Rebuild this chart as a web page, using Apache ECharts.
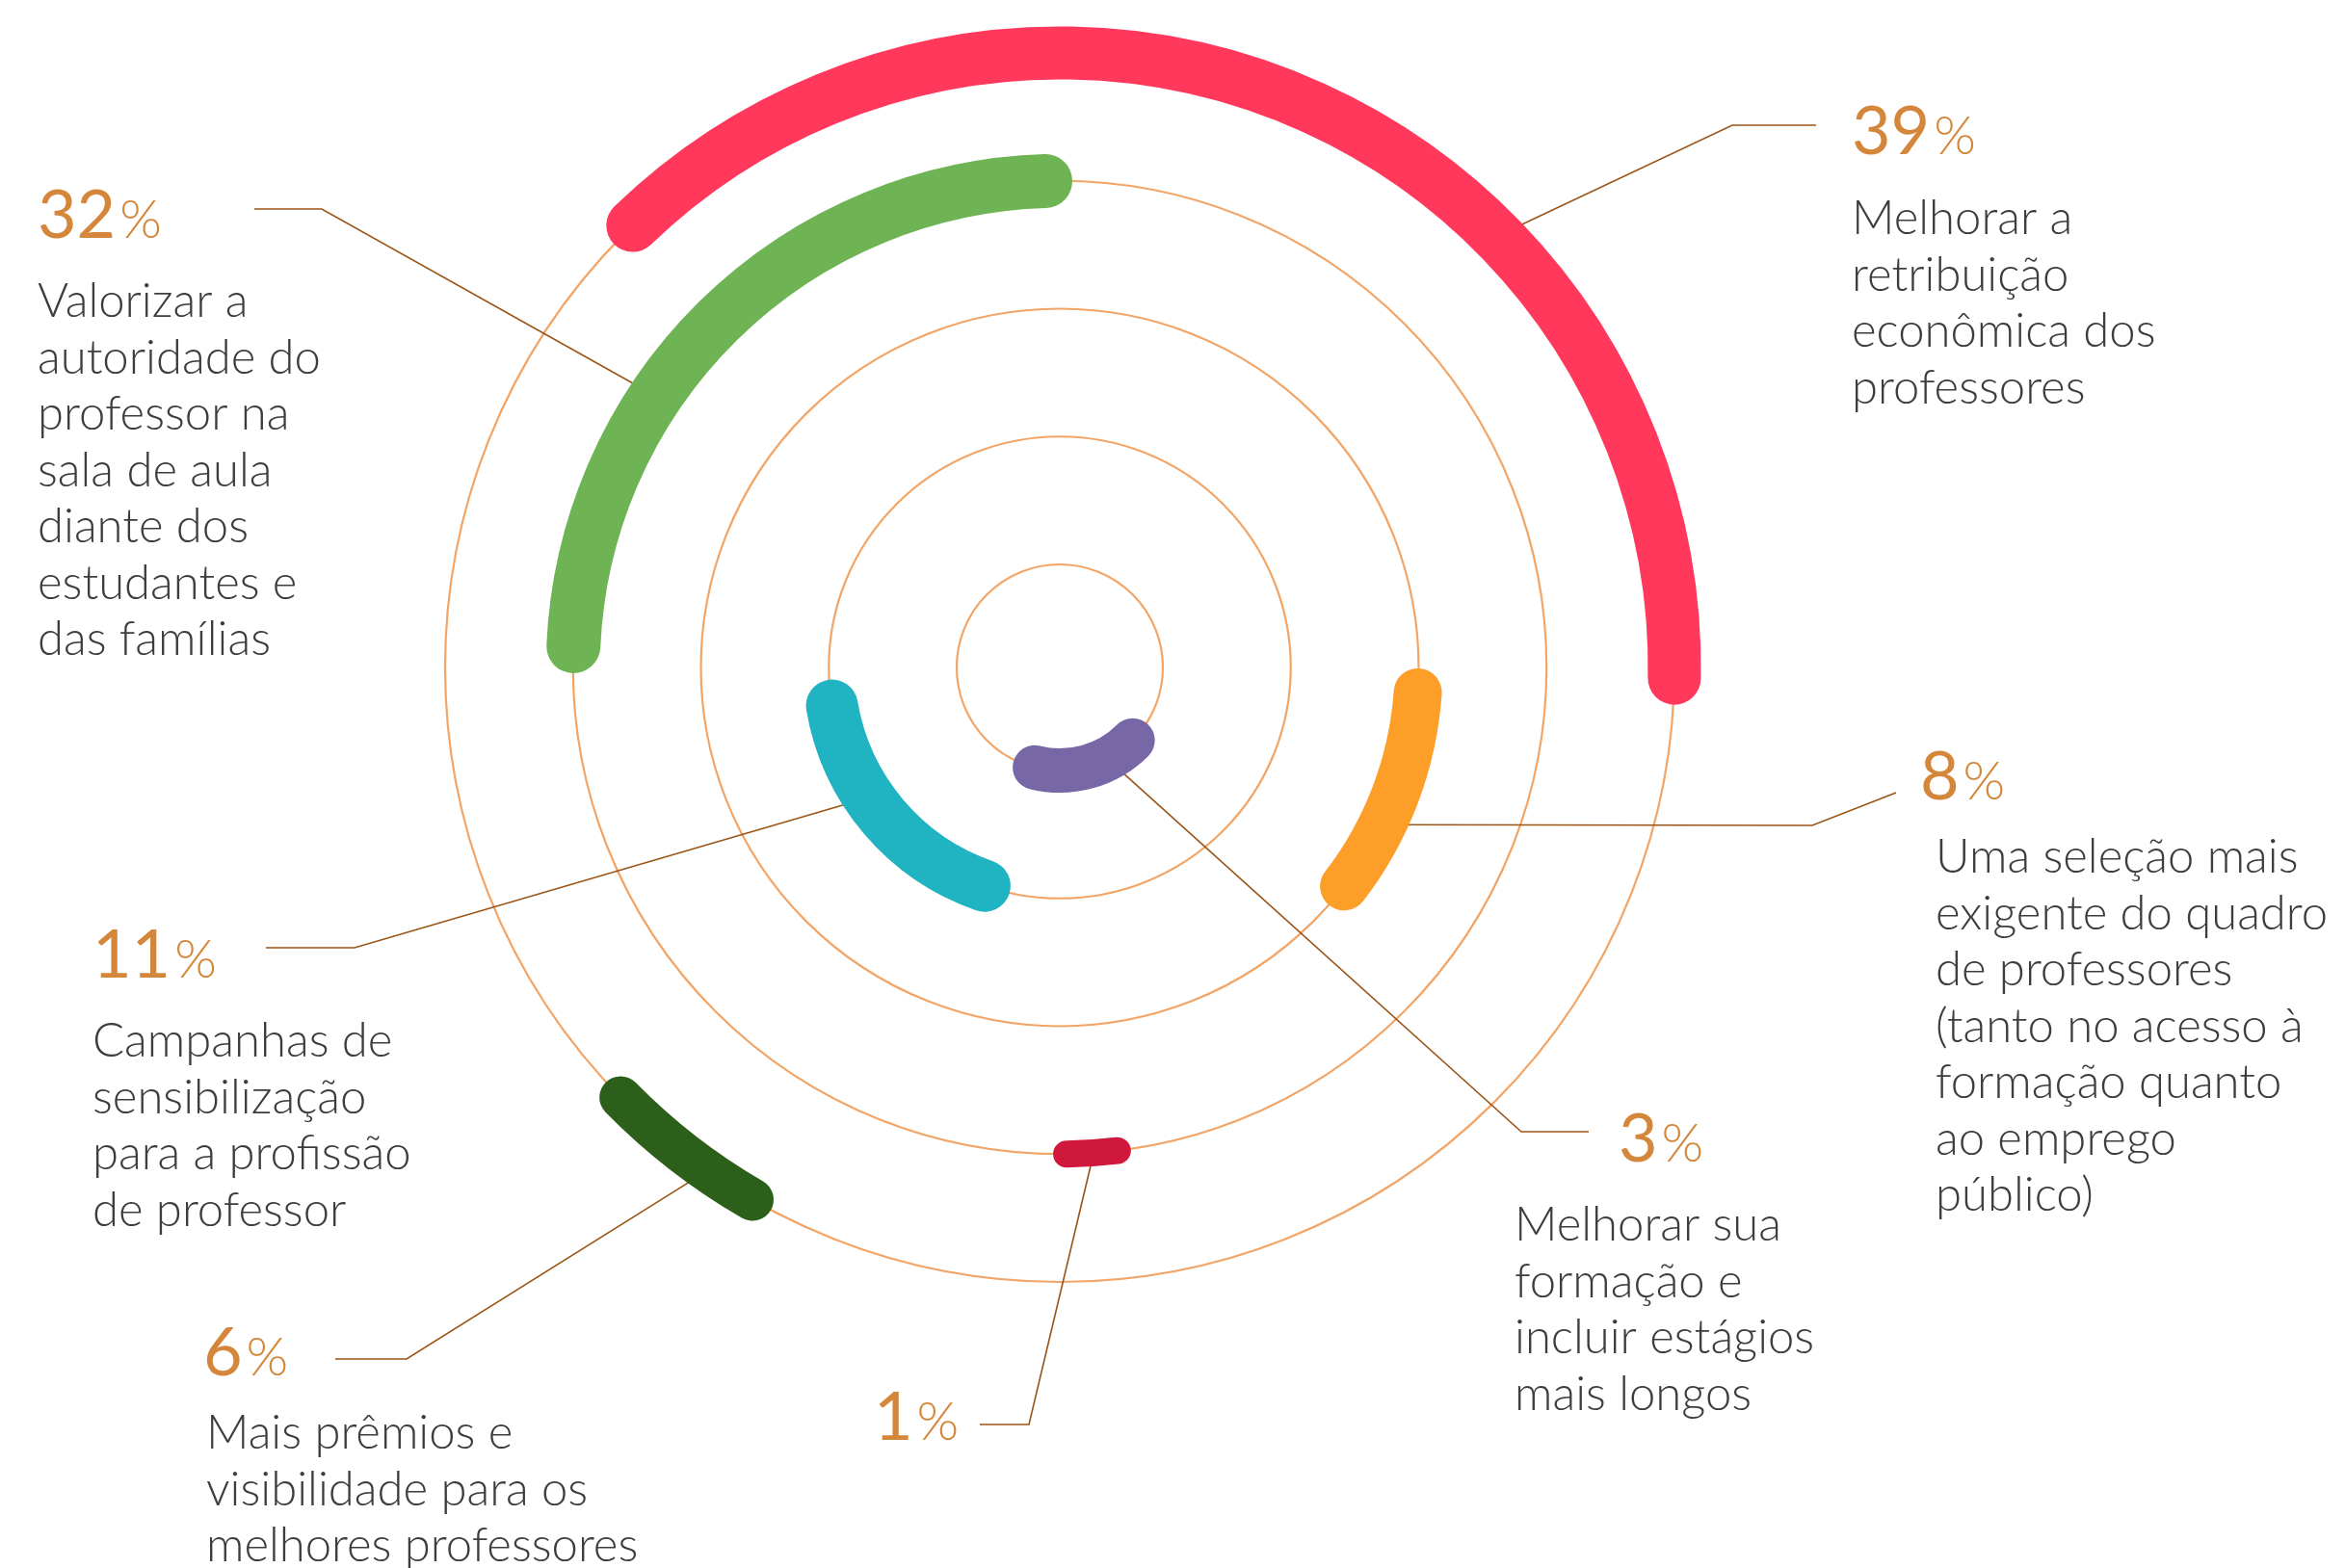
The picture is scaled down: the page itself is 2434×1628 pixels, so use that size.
<!DOCTYPE html>
<html>
<head>
<meta charset="utf-8">
<script src="https://cdn.jsdelivr.net/npm/echarts@6/dist/echarts.min.js"></script>
<style>
  html, body { margin: 0; background: #fff; }
  #chart { width: 2434px; height: 1628px; }
</style>
</head>
<body>
<div id="chart"></div>
<script>
// one entry per answer, same order in every array
const percents = [39, 32, 8, 3, 1, 6, 11];
const labels = [
  ['Melhorar a', 'retribuição', 'econômica dos', 'professores'],
  ['Valorizar a', 'autoridade do', 'professor na', 'sala de aula', 'diante dos', 'estudantes e', 'das famílias'],
  ['Uma seleção mais', 'exigente do quadro', 'de professores', '(tanto no acesso à', 'formação quanto', 'ao emprego', 'público)'],
  ['Melhorar sua', 'formação e', 'incluir estágios', 'mais longos'],
  [],
  ['Mais prêmios e', 'visibilidade para os', 'melhores professores'],
  ['Campanhas de', 'sensibilização', 'para a profissão', 'de professor']
];
// ring index (0 = innermost) and arc extent on the angle axis (0..360, clockwise from the left)
const rings = [4, 3, 2, 0, 3, 4, 1];
const arcStart = [46, 2.5, 184, 225, 263.2, 300, 289];
const arcEnd = [181, 88.3, 217.6, 284, 269.2, 315.6, 350.5];
const anchorAngle = [135.4, 33.9, 206, 242.5, 266, 305, 325.7];

// styles
const arcColors = ['#ff385c', '#6fb454', '#fd9e28', '#7767a6', '#d0183c', '#2b5f1a', '#20b4c3'];
const arcWidths = [55, 56, 50, 46, 28, 44, 54];
const pctPos = [[1922, 157], [39, 244], [1993, 827], [1680, 1203], [907, 1492], [211, 1425], [96, 1012]];
const bodyPos = [[1922, 245], [39, 331], [2009, 908], [1572, 1290], null, [214, 1506], [96, 1099]];
const leaderEnd = [[1885, 130], [264, 217], [1968, 823], [1649, 1175], [1017, 1479], [348, 1411], [276, 984]];
const leaderElbow = [[1798, 130], [334, 217], [1881, 857], [1579, 1175], [1068, 1479], [422, 1411], [368, 984]];

const FONT = 'Lato';
const bodySize = 49;
const lineH = 58.5;

const chart = echarts.init(document.getElementById('chart'));

chart.setOption({
  animation: false,
  backgroundColor: '#fff',
  polar: { center: [1100, 693], radius: [107, 638] },
  radiusAxis: {
    type: 'value', min: 0, max: 4, interval: 1,
    axisLine: { show: false }, axisTick: { show: false }, axisLabel: { show: false },
    splitLine: { show: true, lineStyle: { color: '#f2a566', width: 2.2 } }
  },
  angleAxis: {
    type: 'value', min: 0, max: 360, startAngle: 180, clockwise: true,
    axisLine: { show: false }, axisTick: { show: false }, axisLabel: { show: false },
    splitLine: { show: false }
  },
  series: [{
    type: 'custom',
    coordinateSystem: 'polar',
    z: 5,
    encode: { radius: 0, angle: [1, 2] },
    data: rings.map((r, i) => [r, arcStart[i], arcEnd[i]]),
    renderItem: (params, api) => {
      const cs = params.coordSys;
      const ring = api.value(0);
      const p0 = api.coord([ring, api.value(1)]);
      const p1 = api.coord([ring, api.value(2)]);
      const i = params.dataIndex;
      return {
        type: 'arc',
        shape: {
          cx: cs.cx, cy: cs.cy,
          r: Math.hypot(p0[0] - cs.cx, p0[1] - cs.cy),
          startAngle: Math.atan2(p0[1] - cs.cy, p0[0] - cs.cx),
          endAngle: Math.atan2(p1[1] - cs.cy, p1[0] - cs.cx),
          clockwise: true
        },
        style: { stroke: arcColors[i], lineWidth: arcWidths[i], lineCap: 'round', fill: null }
      };
    }
  }]
});

// labels and leader lines
const graphics = [];
percents.forEach((p, i) => {
  const anchor = chart.convertToPixel({ seriesIndex: 0 }, [rings[i], anchorAngle[i]]);
  graphics.push({
    type: 'polyline', z: 1, silent: true,
    shape: { points: [leaderEnd[i], leaderElbow[i], anchor] },
    style: { stroke: '#9a5416', lineWidth: 1.6, fill: null }
  });
  graphics.push({
    type: 'text', z: 10,
    x: pctPos[i][0], y: pctPos[i][1] + 15,
    style: {
      text: '{n|' + p + '}{p|%}',
      verticalAlign: 'bottom',
      rich: {
        n: { fontFamily: FONT, fontSize: 70, fontWeight: 400, fill: '#d4873a', verticalAlign: 'bottom' },
        p: { fontFamily: FONT, fontSize: 56, fontWeight: 300, fill: '#d4873a', verticalAlign: 'bottom', padding: [0, 0, 2, 4] }
      }
    }
  });
  if (bodyPos[i]) {
    graphics.push({
      type: 'text', z: 10,
      x: bodyPos[i][0], y: bodyPos[i][1] - lineH / 2 - 0.36 * bodySize,
      style: {
        text: labels[i].join('\n'),
        fontFamily: FONT, fontSize: bodySize, fontWeight: 300,
        lineHeight: lineH, fill: '#3d3d3d', verticalAlign: 'top'
      }
    });
  }
});
chart.setOption({ graphic: { elements: graphics } });
</script>
</body>
</html>
